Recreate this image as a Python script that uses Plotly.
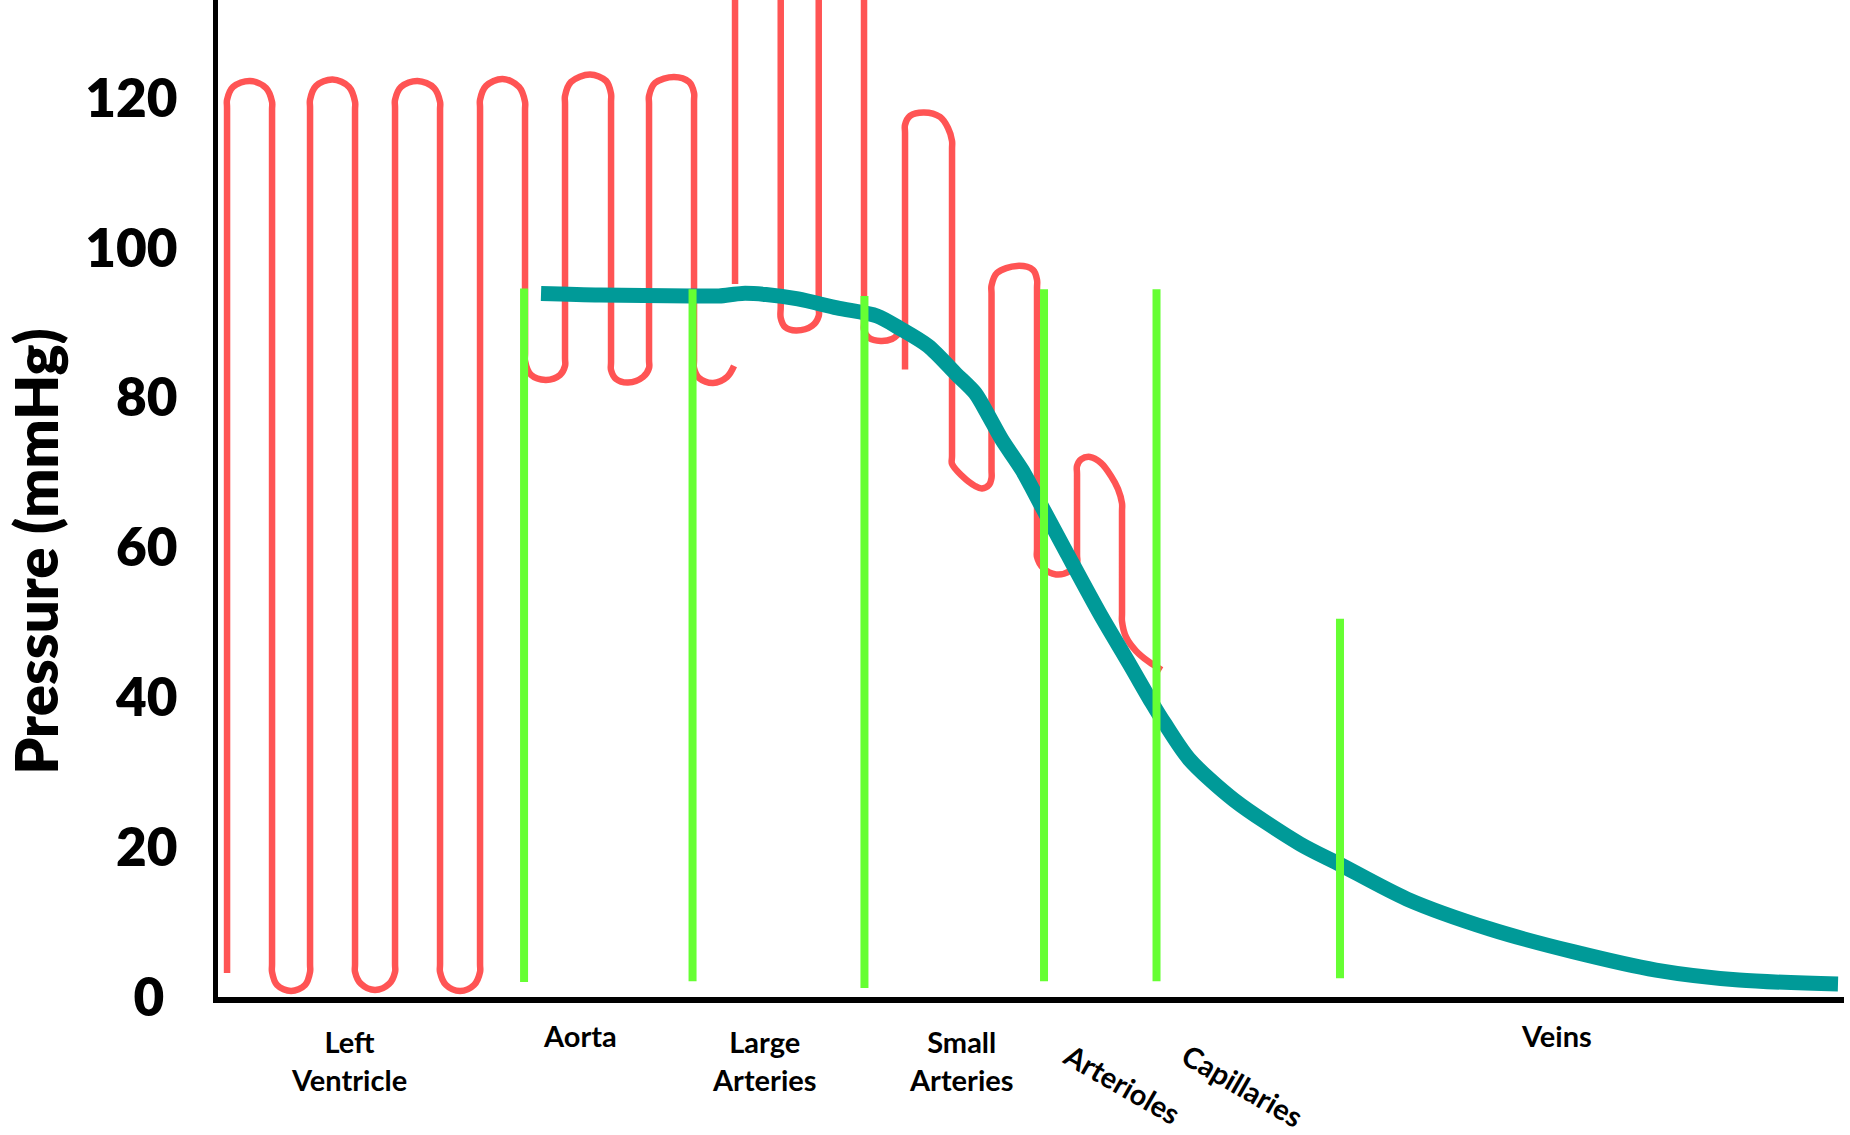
import plotly.graph_objects as go

# ---------------------------------------------------------------------------
# Data: pressure (mmHg) along the systemic circulation.
# Horizontal position is an arbitrary 0-100 scale from the left ventricle
# to the veins.
# ---------------------------------------------------------------------------

pressure_ticks = [0, 20, 40, 60, 80, 100, 120]
pressure_tick_text = ["0\u2005", "20", "40", "60", "80", "100", "120"]

# Vessel regions and where their names sit along the axis
region_names = ["Left<br>Ventricle", "Aorta", "Large<br>Arteries", "Small<br>Arteries",
                "Arterioles", "Capillaries", "Veins"]
region_pos = [8.14, 22.36, 33.72, 45.80, 55.65, 63.08, 82.37]

# Region boundaries (vertical markers)
boundary_pos = [18.92, 29.27, 39.83, 50.86, 57.77, 69.04]
boundary_top = [94.6, 94.5, 93.6, 94.5, 94.5, 50.5]
boundary_bottom = [2.0, 2.1, 1.2, 2.1, 2.1, 2.5]

# Mean pressure
mean_pos = [19.963, 23.587, 29.177, 30.897, 32.310, 33.784, 35.749, 38.145, 40.602, 42.015,
            43.735, 45.455, 46.622, 47.359, 48.280, 49.509, 50.737, 52.273, 54.300, 56.143,
            57.494, 58.292, 59.767, 62.531, 66.585, 69.042, 73.157, 78.256, 83.354, 88.452,
            93.550, 99.631]
mean_mmhg = [93.93, 93.72, 93.59, 93.59, 93.93, 93.78, 93.19, 91.99, 90.92, 89.25,
             86.92, 83.18, 80.64, 77.97, 74.37, 70.36, 65.42, 59.21, 51.13, 44.33,
             39.25, 36.45, 31.78, 26.30, 20.43, 17.69, 13.08, 9.08, 6.06, 3.60,
             2.27, 1.74]

# Pulsatile pressure: left ventricle into the aorta
lv_aorta_pos = [
    0.676, 0.676, 0.676, 1.044, 2.088, 3.071, 3.440, 3.440, 3.440, 3.440, 3.747, 4.607, 5.467, 5.774, 5.774,
    5.774, 5.774, 6.143, 7.156, 8.170, 8.538, 8.538, 8.538, 8.538, 8.907, 9.767, 10.627, 10.995, 10.995,
    10.995, 10.995, 11.364, 12.377, 13.391, 13.759, 13.759, 13.759, 13.759, 14.128, 14.988, 15.848, 16.216, 16.216,
    16.216, 16.216, 16.585, 17.598, 18.612, 18.980, 18.980, 18.980, 18.980, 19.349, 20.270, 21.130, 21.437, 21.437,
    21.437, 21.437, 21.806, 22.973, 23.956, 24.263, 24.263, 24.263, 24.263, 24.570, 25.307, 26.229, 26.597, 26.597,
    26.597, 26.597, 26.966, 28.133, 29.054, 29.361, 29.361, 29.361, 29.361, 29.668, 30.528, 31.388, 31.818,
]
lv_aorta_mmhg = [
    3.20, 118.69, 119.76, 121.50, 122.30, 121.36, 119.49, 118.42, 4.41, 3.34, 1.60, 0.80, 1.60, 3.34, 4.41,
    118.69, 119.76, 121.63, 122.48, 121.50, 119.49, 118.42, 4.41, 3.34, 1.74, 0.93, 1.74, 3.34, 4.41,
    118.69, 119.76, 121.50, 122.30, 121.36, 119.49, 118.42, 4.41, 3.34, 1.60, 0.80, 1.60, 3.34, 4.41,
    118.69, 119.76, 121.63, 122.56, 121.50, 119.49, 118.42, 85.98, 84.91, 83.04, 82.38, 83.04, 84.25, 85.31,
    119.23, 120.29, 122.16, 123.15, 122.30, 120.56, 119.49, 84.78, 83.71, 82.51, 82.04, 82.78, 83.98, 85.05,
    119.23, 120.29, 122.03, 122.83, 122.16, 120.69, 119.63, 85.05, 83.98, 82.64, 81.98, 82.78, 84.25,
]

# Pulsatile pressure: large arteries (systolic peaks run above the plotted range)
large_art_pos = [31.880, 31.880, 31.880, 33.28, 34.687, 34.687, 34.687, 34.687, 34.951, 35.627,
                 36.609, 37.021, 37.021, 37.021, 37.021, 38.41, 39.803, 39.803, 39.803, 39.803,
                 40.111, 40.829, 41.523, 41.922]
large_art_mmhg = [95.19, 136.0, 138.0, 141.0, 138.0, 136.0, 92.26, 90.65, 89.45, 88.99,
                  89.59, 90.92, 91.99, 136.0, 138.0, 141.0, 138.0, 136.0, 90.12, 89.05,
                  87.98, 87.58, 87.85, 88.52]

# Pulsatile pressure: small arteries and arterioles
small_art_pos = [42.322, 42.322, 42.322, 42.629, 43.489, 44.472, 44.963, 45.209, 45.209, 45.209,
                 45.209, 45.823, 46.622, 47.052, 47.482, 47.635, 47.635, 47.635, 47.635, 47.973,
                 49.201, 50.184, 50.430, 50.430, 50.430, 50.430, 50.799, 51.597, 52.457, 52.887,
                 52.887, 52.887, 52.887, 53.133, 53.686, 54.361, 54.975, 55.405, 55.651, 55.651,
                 55.651, 55.651, 55.897, 56.511, 57.310, 58.084]
small_art_mmhg = [83.76, 115.35, 116.42, 117.62, 118.09, 117.49, 116.02, 114.29, 113.22, 72.23,
                  71.16, 69.56, 68.22, 67.89, 68.36, 69.29, 70.36, 93.90, 94.97, 96.66,
                  97.60, 97.06, 95.73, 94.66, 59.81, 58.74, 57.28, 56.41, 56.88, 57.94,
                  59.01, 69.83, 70.89, 71.76, 72.10, 71.30, 69.56, 67.82, 65.89, 64.82,
                  51.20, 50.13, 48.06, 46.20, 44.73, 43.66]

RED = "#FF5454"
TEAL = "#009A98"
GREEN = "#66FF33"
FONT = "Lato"

fig = go.Figure()

# Pulsatile traces
for xs, ys in [(lv_aorta_pos, lv_aorta_mmhg),
               (large_art_pos, large_art_mmhg),
               (small_art_pos, small_art_mmhg)]:
    fig.add_trace(go.Scatter(
        x=xs, y=ys, mode="lines",
        line=dict(color=RED, width=6.5, shape="spline", smoothing=1),
        hoverinfo="skip", showlegend=False,
    ))

# Mean pressure
fig.add_trace(go.Scatter(
    x=mean_pos, y=mean_mmhg, mode="lines",
    line=dict(color=TEAL, width=15, shape="spline", smoothing=0.8),
    hoverinfo="skip", showlegend=False,
))

# Region boundaries
bx, by = [], []
for p, top, bottom in zip(boundary_pos, boundary_top, boundary_bottom):
    bx += [p, p, None]
    by += [bottom, top, None]
fig.add_trace(go.Scatter(
    x=bx, y=by, mode="lines",
    line=dict(color=GREEN, width=8),
    hoverinfo="skip", showlegend=False,
))

# Region names below the axis: (paper y, angle) for each label
label_layout = [(-0.0635, 0), (-0.039, 0), (-0.0635, 0), (-0.0635, 0),
                (-0.087, 30), (-0.089, 30), (-0.039, 0)]
for name, pos, (ly, ang) in zip(region_names, region_pos, label_layout):
    fig.add_annotation(
        x=pos, xref="x", y=ly, yref="paper", text=name, showarrow=False,
        xanchor="center", yanchor="middle", textangle=ang,
        font=dict(family=FONT, size=29, color="black", weight="bold"),
    )

# Axis title
fig.add_annotation(
    x=-0.1125, xref="paper", y=0.447, yref="paper", text="Pressure (mmHg)",
    showarrow=False, textangle=-90, xanchor="center", yanchor="middle",
    font=dict(family=FONT, size=58, color="black", weight=800),
)

fig.update_layout(
    width=1850, height=1135,
    margin=dict(l=218, r=6, t=0, b=138),
    paper_bgcolor="white", plot_bgcolor="white",
    showlegend=False,
    xaxis=dict(range=[0.12, 100], showline=True, linecolor="black", linewidth=6,
               showgrid=False, zeroline=False, showticklabels=False, ticks=""),
    yaxis=dict(range=[0, 133.1], tickvals=pressure_ticks, ticktext=pressure_tick_text,
               tickfont=dict(family=FONT, size=53, color="black", weight=800),
               showline=True, linecolor="black", linewidth=5,
               showgrid=False, zeroline=False, ticks="", ticklabelstandoff=25),
)

fig.write_html("out.html")
